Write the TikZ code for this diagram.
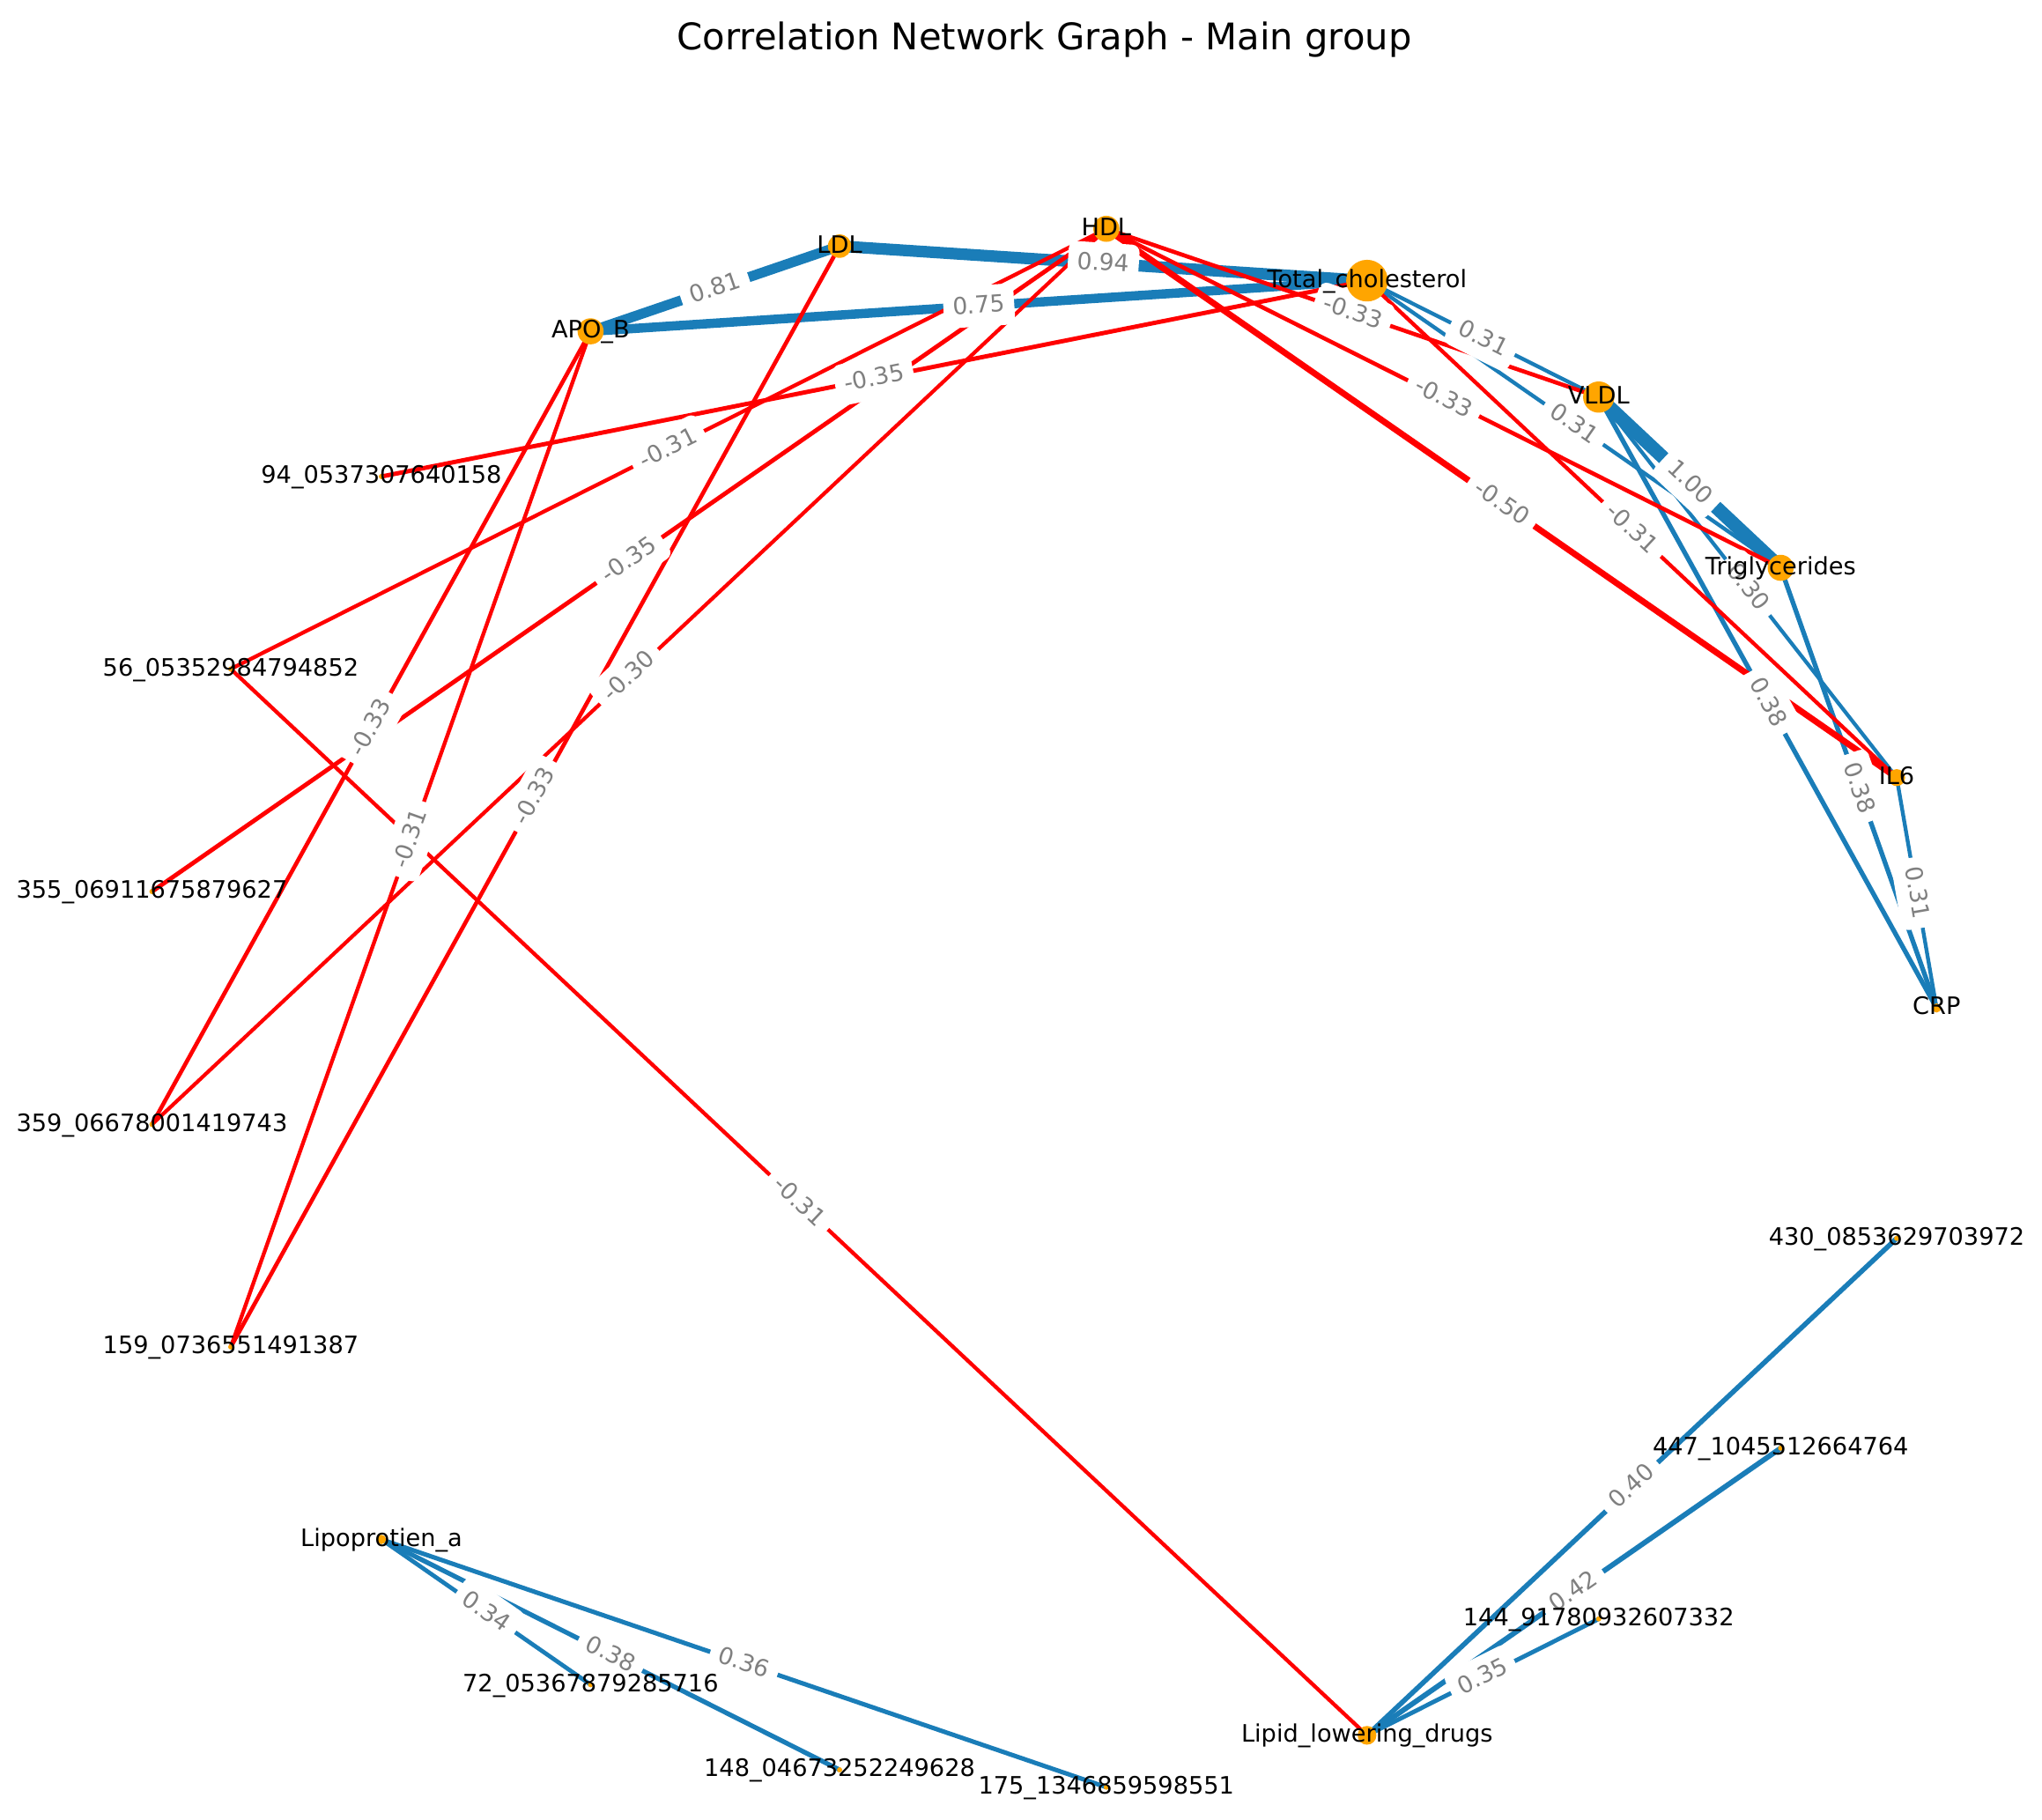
\documentclass[tikz,border=0pt]{standalone}
\usepackage{fontspec}
\setmainfont{DejaVu Sans}
\definecolor{posc}{RGB}{26,125,184}
\definecolor{negc}{RGB}{255,0,0}
\definecolor{nodeor}{RGB}{255,165,0}
\begin{document}
\begin{tikzpicture}[x=0.5pt,y=-0.5pt,
  elab/.style={fill=white, text=black!50, font=\fontsize{9}{10.5}\selectfont,
    rounded corners=3pt, inner xsep=3.6pt, inner ysep=3pt, text height=0.76em, text depth=0.22em,
    sloped, midway},
  vtx/.style={circle, fill=nodeor, inner sep=0pt, minimum size=#1},
  vlab/.style={font=\fontsize{9.2}{11}\selectfont, text=black, inner sep=0pt,
    text height=0.76em, text depth=0.24em},
  ttl/.style={font=\fontsize{14.1}{17}\selectfont, text=black, inner sep=0pt, anchor=base}
]
\useasboundingbox (0,0) rectangle (1568,1397);

% node centres (circular layout)
\coordinate (CRP)  at (1487.0, 774.0);
\coordinate (IL6)  at (1456.4, 597.1);
\coordinate (TG)   at (1367.3, 436.0);
\coordinate (VLDL) at (1227.6, 304.9);
\coordinate (TC)   at (1049.7, 215.5);
\coordinate (HDL)  at (849.5, 175.7);
\coordinate (LDL)  at (644.7, 189.0);
\coordinate (APOB) at (453.5, 254.4);
\coordinate (n94)  at (292.9, 365.9);
\coordinate (n56)  at (177.2, 513.7);
\coordinate (n355) at (116.7, 684.6);
\coordinate (n359) at (116.7, 863.4);
\coordinate (n159) at (177.2, 1034.3);
\coordinate (Lpa)  at (292.9, 1182.1);
\coordinate (n72)  at (453.5, 1293.6);
\coordinate (n148) at (644.7, 1359.0);
\coordinate (n175) at (849.5, 1372.3);
\coordinate (LLD)  at (1049.7, 1332.5);
\coordinate (n144) at (1227.6, 1243.1);
\coordinate (n447) at (1367.3, 1112.0);
\coordinate (n430) at (1456.4, 950.9);

% edges
\foreach \a/\b/\c/\w in {
  APOB/LDL/posc/3.85, LDL/TC/posc/4.47, APOB/TC/posc/3.56,
  TC/VLDL/posc/1.47, TC/TG/posc/1.47, VLDL/TG/posc/5.2,
  VLDL/CRP/posc/1.80, VLDL/IL6/posc/1.43, TG/CRP/posc/1.80, IL6/CRP/posc/1.47,
  Lpa/n72/posc/1.62, Lpa/n148/posc/1.80, Lpa/n175/posc/1.71,
  LLD/n430/posc/1.90, LLD/n447/posc/2.00, LLD/n144/posc/1.66,
  n94/TC/negc/1.66, n56/HDL/negc/1.47, n56/LLD/negc/1.47,
  n355/HDL/negc/1.66, n359/HDL/negc/1.43, n359/APOB/negc/1.57,
  n159/APOB/negc/1.47, n159/LDL/negc/1.57,
  HDL/VLDL/negc/1.57, HDL/TG/negc/1.57, HDL/IL6/negc/2.38, TC/IL6/negc/1.47}
  \draw[\c, line width=\w pt] (\a) -- (\b);

% edge labels
\foreach \a/\b/\l in {
  APOB/LDL/0.81, LDL/TC/0.94, APOB/TC/0.75,
  TC/VLDL/0.31, TC/TG/0.31, VLDL/TG/1.00,
  VLDL/CRP/0.38, VLDL/IL6/0.30, TG/CRP/0.38, IL6/CRP/0.31,
  Lpa/n72/0.34, Lpa/n148/0.38, Lpa/n175/0.36,
  LLD/n430/0.40, LLD/n447/0.42, LLD/n144/0.35,
  n94/TC/-0.35, n56/HDL/-0.31, n56/LLD/-0.31,
  n355/HDL/-0.35, n359/HDL/-0.30, n359/APOB/-0.33,
  n159/APOB/-0.31, n159/LDL/-0.33,
  HDL/VLDL/-0.33, HDL/TG/-0.33, HDL/IL6/-0.50, TC/IL6/-0.31}
  \path (\a) -- (\b) node[elab] {\l};

% node markers (diameter in pt = radius in px)
\foreach \n/\d in {CRP/3.5, IL6/6.5, TG/10, VLDL/12, TC/16, HDL/10, LDL/9, APOB/10,
  n94/2, n56/2, n355/2, n359/2, n159/2, Lpa/3.6, n72/2, n148/2, n175/2,
  LLD/7.2, n144/2, n447/2, n430/2}
  \node[vtx=\d pt] (c-\n) at (\n) {};

% node labels
\node[vlab] (l-CRP)  at (CRP)  {CRP};
\node[vlab] (l-IL6)  at (IL6)  {IL6};
\node[vlab] (l-TG)   at (TG)   {Triglycerides};
\node[vlab] (l-VLDL) at (VLDL) {VLDL};
\node[vlab] (l-TC)   at (TC)   {Total\_cholesterol};
\node[vlab] (l-HDL)  at (HDL)  {HDL};
\node[vlab] (l-LDL)  at (LDL)  {LDL};
\node[vlab] (l-APOB) at (APOB) {APO\_B};
\node[vlab] (l-n94)  at (n94)  {94\_0537307640158};
\node[vlab] (l-n56)  at (n56)  {56\_05352984794852};
\node[vlab] (l-n355) at (n355) {355\_06911675879627};
\node[vlab] (l-n359) at (n359) {359\_06678001419743};
\node[vlab] (l-n159) at (n159) {159\_0736551491387};
\node[vlab] (l-Lpa)  at (Lpa)  {Lipoprotien\_a};
\node[vlab] (l-n72)  at (n72)  {72\_05367879285716};
\node[vlab] (l-n148) at (n148) {148\_04673252249628};
\node[vlab] (l-n175) at (n175) {175\_1346859598551};
\node[vlab] (l-LLD)  at (LLD)  {Lipid\_lowering\_drugs};
\node[vlab] (l-n144) at (n144) {144\_91780932607332};
\node[vlab] (l-n447) at (n447) {447\_1045512664764};
\node[vlab] (l-n430) at (n430) {430\_0853629703972};

% title
\node[ttl] (title) at (802, 38) {Correlation Network Graph - Main group};
\end{tikzpicture}
\end{document}
